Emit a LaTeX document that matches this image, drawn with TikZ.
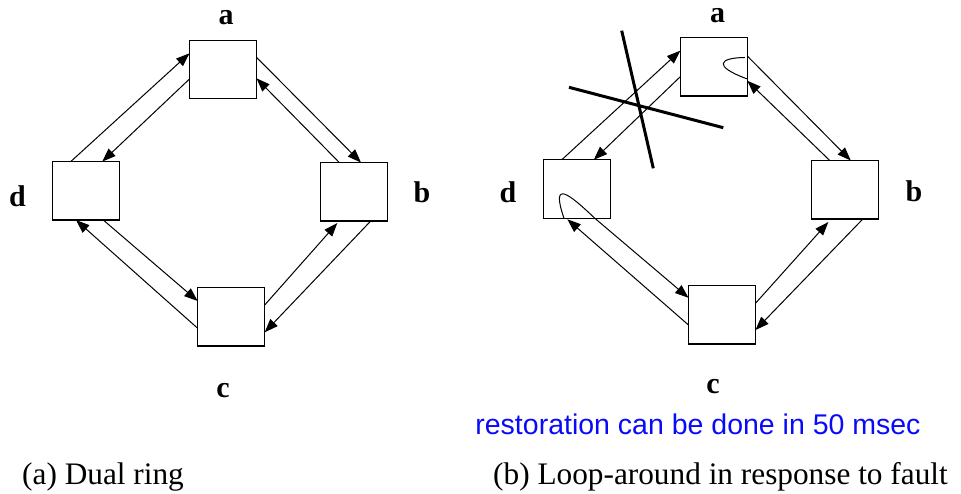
\documentclass[tikz,border=0pt]{standalone}
\usepackage{fontspec}
\setmainfont{Liberation Serif}
\newfontfamily\blueface{Liberation Sans}
\usetikzlibrary{arrows.meta,calc}
\definecolor{noteblue}{RGB}{10,10,250}
\begin{document}
\begin{tikzpicture}[x=1pt,y=-1pt,
  ringbox/.style={draw,line width=1.4pt,minimum width=67pt,minimum height=58.5pt,inner sep=0pt,outer sep=0pt},
  link/.style={line width=1pt,-{Triangle[length=13.5pt,width=10pt]}},
  plain/.style={line width=1pt},
  lbl/.style={anchor=base,inner sep=0pt,font=\bfseries\fontsize{30}{36}\selectfont},
  captext/.style={anchor=base west,inner sep=0pt,font=\fontsize{31.3}{36}\selectfont},
  fault/.style={line width=3pt}]
\useasboundingbox (0,0) rectangle (961,494);
% ---------- panel (a)
\node[ringbox] (a1) at (223,69.5) {};
\node[ringbox] (d1) at (85.8,190.8) {};
\node[ringbox] (b1) at (354,191.8) {};
\node[ringbox] (c1) at (231.2,316.7) {};
\node[lbl] (la1) at (226,25) {a};
\node[lbl] (ld1) at (17.5,207) {d};
\node[lbl] (lb1) at (422,203) {b};
\node[lbl] (lc1) at (223,397) {c};
\draw[link] ($(d1.north)+(-15,0)$) -- ($(a1.west)+(0,-16.2)$);
\draw[link] ($(a1.west)+(0,9.5)$) -- ($(d1.north)+(16.5,0)$);
\draw[link] ($(a1.east)+(0,-12.2)$) -- ($(b1.north)+(7,0)$);
\draw[link] ($(b1.north)+(-14.7,0)$) -- ($(a1.east)+(0,8.8)$);
\draw[link] ($(b1.south)+(16.7,0)$) -- ($(c1.east)+(0,15.6)$);
\draw[link] ($(c1.east)+(0,-11.7)$) -- ($(b1.south)+(-16.7,2)$);
\draw[link] ($(d1.south)+(17.5,0)$) -- ($(c1.west)+(0,-15.7)$);
\draw[link] ($(c1.west)+(0,11.6)$) -- ($(d1.south)+(-9.8,0)$);
\node[captext] (capa) at (22,484) {(a) Dual ring};
% ---------- panel (b)
\node[ringbox] (a2) at (713.8,66.8) {};
\node[ringbox] (d2) at (576.8,189) {};
\node[ringbox] (b2) at (844.8,189.8) {};
\node[ringbox] (c2) at (722,314.8) {};
\node[lbl] (la2) at (717.5,23) {a};
\node[lbl] (ld2) at (508,203) {d};
\node[lbl] (lb2) at (914,202) {b};
\node[lbl] (lc2) at (713,393) {c};
\draw[link] ($(d2.north)+(-15,0)$) -- ($(a2.west)+(0,-16.1)$);
\draw[link] ($(a2.west)+(0,9.9)$) -- ($(d2.north)+(17,0)$);
\draw[link] ($(a2.east)+(0,-10.8)$) -- ($(b2.north)+(6,0)$);
\draw[link] ($(b2.north)+(-15,0)$) -- ($(a2.east)+(0,14)$);
\draw[plain] ($(a2.east)+(-0.5,12)$) .. controls ($(a2.east)+(-35.5,-1)$) and ($(a2.east)+(-27.5,-9)$) .. ($(a2.east)+(-2.5,-9.3)$);
\draw[link] ($(b2.south)+(18,0)$) -- ($(c2.east)+(0,15.2)$);
\draw[link] ($(c2.east)+(0,-11.5)$) -- ($(b2.south)+(-16.5,3)$);
\draw[link] ($(d2.south)+(18,0)$) -- ($(c2.west)+(0,-17)$);
\draw[plain] ($(d2.south)+(18,0)$) .. controls ($(d2.south)+(-6.8,-23.5)$) and ($(d2.south)+(-26.8,-40.5)$) .. ($(d2.south)+(-12.8,0)$);
\draw[link] ($(c2.west)+(0,10.2)$) -- ($(d2.south)+(-9.5,1)$);
\coordinate (f1s) at (621.7,30.7);
\coordinate (f1e) at (653.3,168.3);
\coordinate (f2s) at (569,87.3);
\coordinate (f2e) at (723.3,127.7);
\draw[fault] (f1s) -- (f1e);
\draw[fault] (f2s) -- (f2e);
\node[anchor=base,inner sep=0pt,text=noteblue,font=\blueface\fontsize{28.5}{34}\selectfont] (note) at (698,434) {restoration can be done in 50 msec};
\node[captext] (capb) at (493,484) {(b) Loop-around in response to fault};
\end{tikzpicture}
\end{document}
